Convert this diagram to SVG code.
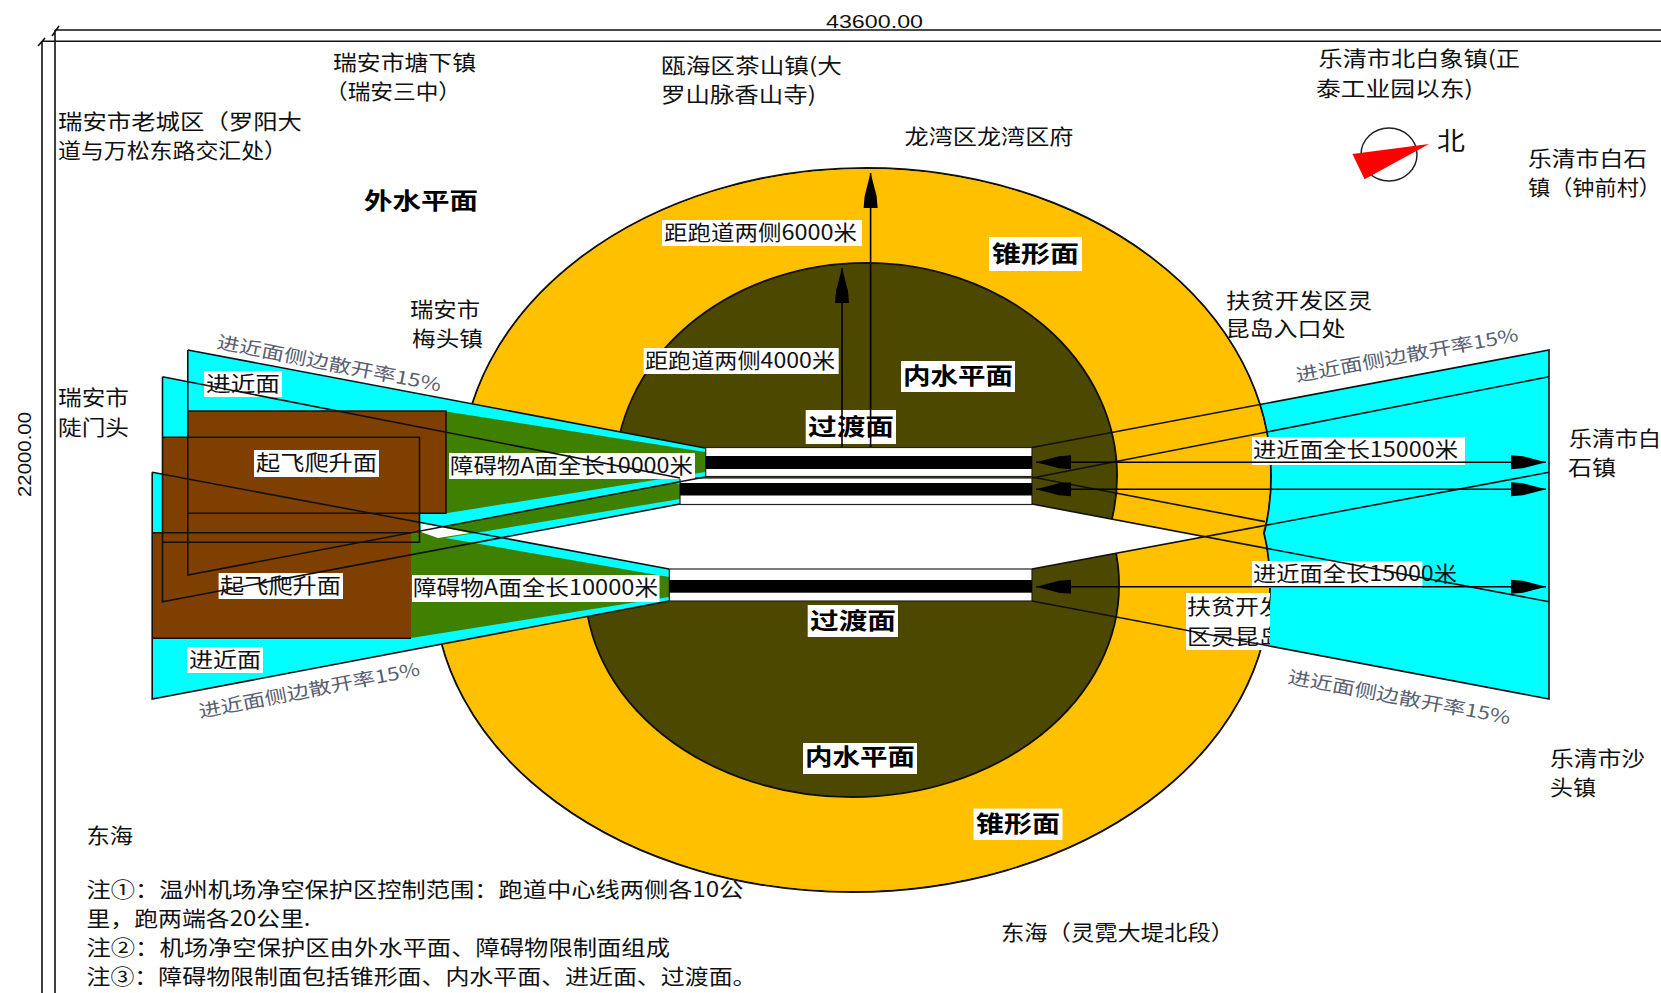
<svg xmlns="http://www.w3.org/2000/svg" width="1661" height="993" viewBox="0 0 1661 993">
<style>
text{font-family:"Noto Sans CJK SC","Noto Sans",sans-serif;font-size:21px;fill:#111}
.b{font-weight:700;font-size:23px;fill:#000}
.r{font-size:18px;fill:#5a6070}
.d{font-family:"Liberation Sans","Noto Sans CJK SC",sans-serif;font-size:19px}
.o{fill:none;stroke:#111;stroke-width:1.6}
.w{fill:#fff}
.ys{fill:#ffc000;stroke:#111;stroke-width:2}
.y{fill:#ffc000}
.ks{fill:#4d4800;stroke:#111;stroke-width:2}
.k{fill:#4d4800}
.c{fill:#00ffff}
.g{fill:#408000}
.br{fill:#7f3f00}
.a{fill:none;stroke:#000;stroke-width:1.6}
</style>
<defs>
<marker id="ah" markerUnits="userSpaceOnUse" markerWidth="38" markerHeight="16" refX="35" refY="8" orient="auto-start-reverse"><path d="M0 1L12 2L35 8L12 14L0 15Z" fill="#000"/></marker>
<clipPath id="clipL"><rect x="1186" y="593" width="84" height="57"/></clipPath>
</defs>
<rect width="1661" height="993" fill="#fff"/>
<g id="frame">
<path class="o" d="M55 30H1661M42 41.3H1661M42 41.3V993M55 30V993M52 36L59 26M38 46L45 38"/>
<text class="d" x="826" y="28" textLength="97" lengthAdjust="spacingAndGlyphs">43600.00</text>
<text class="d" transform="translate(31 497) rotate(-90)" x="0" y="0" textLength="85" lengthAdjust="spacingAndGlyphs">22000.00</text>
</g>
<g id="right-approach"><path class="c" d="M1032 447.5L1549 350V699L1032 601Z"/></g>
<g id="conical-surface">
<ellipse class="ys" cx="866" cy="476" rx="405" ry="308"/>
<ellipse class="ys" cx="852" cy="585" rx="418" ry="307"/>
<ellipse class="y" cx="866" cy="476" rx="404" ry="307"/>
<ellipse class="y" cx="852" cy="585" rx="417" ry="306"/>
</g>
<g id="inner-horizontal-surface">
<ellipse class="ks" cx="866" cy="476" rx="251" ry="213"/>
<ellipse class="ks" cx="852" cy="585" rx="267" ry="212"/>
<ellipse class="k" cx="866" cy="476" rx="250" ry="212"/>
<ellipse class="k" cx="852" cy="585" rx="266" ry="211"/>
</g>
<g id="centre-gap"><path class="w" d="M1032 504L1204 536.5L1032 569H669L500 538L680 504Z"/></g>
<g id="left-surfaces">
<path class="c" d="M152.2 472.3L669 569V601L152.2 699Z"/>
<path class="c" d="M162.5 376.7L680 478V504L162.5 601.7Z"/>
<path class="g" d="M419.5 437L680 484V499L419.5 542.3Z"/>
<path class="c" d="M187.8 350L705 448V477L187.8 575Z"/>
<path class="g" d="M446 411.5L705 452V472L446 513.3Z"/>
<rect class="br" x="162.5" y="437.3" width="257" height="105"/>
<rect class="br" x="187.8" y="411" width="258.2" height="102.3"/>
<path class="g" d="M411 532L669 577V597L411 638Z"/>
<rect class="br" x="152.2" y="532.7" width="258.8" height="105.6"/>
<path class="w" d="M421 523L470 533L438 538L421 532Z"/>
</g>
<g id="runways">
<rect class="w" x="705.7" y="447.5" width="326.3" height="29" stroke="#222" stroke-width="1.2"/>
<rect x="705.7" y="456" width="326.3" height="13" fill="#000"/>
<rect class="w" x="680" y="478" width="352" height="26.5" stroke="#222" stroke-width="1.2"/>
<rect x="680" y="483" width="352" height="12.5" fill="#000"/>
<rect class="w" x="669.3" y="569" width="362.7" height="32" stroke="#222" stroke-width="1.2"/>
<rect x="669.3" y="580" width="362.7" height="12.7" fill="#000"/>
</g>
<g id="label-boxes">
<rect class="w" x="662" y="220" width="200" height="26"/>
<rect class="w" x="643.7" y="348" width="195" height="26"/>
<rect class="w" x="989" y="237" width="93" height="34"/>
<rect class="w" x="901" y="361" width="114" height="31"/>
<rect class="w" x="805.7" y="410" width="90.3" height="34"/>
<rect class="w" x="807.7" y="605" width="90.3" height="32"/>
<rect class="w" x="803" y="743" width="114" height="31"/>
<rect class="w" x="973.5" y="808.6" width="89" height="31.4"/>
<rect class="w" x="204" y="371" width="78" height="26"/>
<rect class="w" x="187" y="647" width="76" height="26"/>
<rect class="w" x="254" y="450" width="125" height="27"/>
<rect class="w" x="218.6" y="573" width="124.4" height="26"/>
<rect class="w" x="449" y="453" width="246" height="26"/>
<rect class="w" x="412" y="575" width="247.5" height="27"/>
<rect class="w" x="1252" y="437" width="213" height="28"/>
<rect class="w" x="1252" y="561" width="170.4" height="27"/>
<rect class="w" x="1186" y="593" width="84" height="57"/>
</g>
<g id="connectors">
<path class="o" d="M187.8 350L705 448M705 477L187.8 575V350M162.5 376.7L680 478M680 504L162.5 601.7V376.7M152.2 472.3L669 569M669 601L152.2 699V472.3"/>
<path class="o" d="M187.8 411H446V513.3H187.8M162.5 437.3H419.5V542.3H162.5M152.2 532.7H411M152.2 638.3H411"/>
<path class="o" d="M1032 447.5L1549 350V699L1032 601M1032 478L1549 376.7M1032 477L1265 521.6M1032 504L1549 601.7M1032 569L1549 472.3"/>
<path class="a" d="M870.6 447V173" marker-end="url(#ah)"/>
<path class="a" d="M842 447V268" marker-end="url(#ah)"/>
<path class="a" d="M1036 462.3H1546" marker-start="url(#ah)" marker-end="url(#ah)"/>
<path class="a" d="M1036 489.3H1546" marker-start="url(#ah)" marker-end="url(#ah)"/>
<path class="a" d="M1036 586.7H1546" marker-start="url(#ah)" marker-end="url(#ah)"/>
</g>
<g id="compass">
<ellipse cx="1389" cy="154.5" rx="28" ry="26.5" fill="none" stroke="#222" stroke-width="1.5"/>
<path fill="#f00" d="M1429 144L1352.4 154L1364.6 179.3Z"/>
<text x="1437" y="150" textLength="28" lengthAdjust="spacingAndGlyphs" style="font-size:25px">北</text>
</g>
<g id="place-names">
<text x="333" y="70" textLength="143" lengthAdjust="spacingAndGlyphs">瑞安市塘下镇</text>
<text x="325" y="99" textLength="136" lengthAdjust="spacingAndGlyphs">（瑞安三中）</text>
<text x="58" y="129" textLength="244" lengthAdjust="spacingAndGlyphs">瑞安市老城区（罗阳大</text>
<text x="58" y="158" textLength="229" lengthAdjust="spacingAndGlyphs">道与万松东路交汇处）</text>
<text x="661" y="73" textLength="181" lengthAdjust="spacingAndGlyphs">瓯海区茶山镇(大</text>
<text x="661" y="102" textLength="155" lengthAdjust="spacingAndGlyphs">罗山脉香山寺)</text>
<text x="1318.5" y="66" textLength="201.5" lengthAdjust="spacingAndGlyphs">乐清市北白象镇(正</text>
<text x="1316" y="96" textLength="157" lengthAdjust="spacingAndGlyphs">泰工业园以东)</text>
<text x="904.5" y="144" textLength="169" lengthAdjust="spacingAndGlyphs">龙湾区龙湾区府</text>
<text x="1528" y="166" textLength="119" lengthAdjust="spacingAndGlyphs">乐清市白石</text>
<text x="1528" y="195" textLength="133" lengthAdjust="spacingAndGlyphs">镇（钟前村）</text>
<text x="410" y="317" textLength="70" lengthAdjust="spacingAndGlyphs">瑞安市</text>
<text x="412" y="346" textLength="71" lengthAdjust="spacingAndGlyphs">梅头镇</text>
<text x="58" y="405" textLength="71" lengthAdjust="spacingAndGlyphs">瑞安市</text>
<text x="58" y="435" textLength="71" lengthAdjust="spacingAndGlyphs">陡门头</text>
<text x="1226" y="308" textLength="146" lengthAdjust="spacingAndGlyphs">扶贫开发区灵</text>
<text x="1225.5" y="336" textLength="120" lengthAdjust="spacingAndGlyphs">昆岛入口处</text>
<text x="1569" y="446" textLength="92" lengthAdjust="spacingAndGlyphs">乐清市白</text>
<text x="1568" y="475" textLength="48" lengthAdjust="spacingAndGlyphs">石镇</text>
<text x="1550" y="766" textLength="95" lengthAdjust="spacingAndGlyphs">乐清市沙</text>
<text x="1550" y="795" textLength="46" lengthAdjust="spacingAndGlyphs">头镇</text>
<text x="86.5" y="843" textLength="46.5" lengthAdjust="spacingAndGlyphs">东海</text>
<text x="1001" y="940" textLength="233" lengthAdjust="spacingAndGlyphs">东海（灵霓大堤北段）</text>
<text class="b" x="364" y="209" textLength="114" lengthAdjust="spacingAndGlyphs">外水平面</text>
</g>
<g id="notes">
<text x="86.5" y="897" textLength="657" lengthAdjust="spacingAndGlyphs">注①：温州机场净空保护区控制范围：跑道中心线两侧各10公</text>
<text x="86.5" y="926" textLength="224" lengthAdjust="spacingAndGlyphs">里，跑两端各20公里.</text>
<text x="86.5" y="955" textLength="583.5" lengthAdjust="spacingAndGlyphs">注②：机场净空保护区由外水平面、障碍物限制面组成</text>
<text x="86.5" y="984" textLength="670" lengthAdjust="spacingAndGlyphs">注③：障碍物限制面包括锥形面、内水平面、进近面、过渡面。</text>
</g>
<g id="slope-labels">
<text class="r" transform="translate(216 348) rotate(11)" textLength="228" lengthAdjust="spacingAndGlyphs">进近面侧边散开率15%</text>
<text class="r" transform="translate(1297 382) rotate(-10.5)" textLength="226" lengthAdjust="spacingAndGlyphs">进近面侧边散开率15%</text>
<text class="r" transform="translate(200 718) rotate(-11)" textLength="225" lengthAdjust="spacingAndGlyphs">进近面侧边散开率15%</text>
<text class="r" transform="translate(1287 683) rotate(10.5)" textLength="226" lengthAdjust="spacingAndGlyphs">进近面侧边散开率15%</text>
</g>
<g id="boxed-labels">
<text x="664" y="240" textLength="193" lengthAdjust="spacingAndGlyphs">距跑道两侧6000米</text>
<text x="645" y="368" textLength="190" lengthAdjust="spacingAndGlyphs">距跑道两侧4000米</text>
<text class="b" x="992" y="262" textLength="87" lengthAdjust="spacingAndGlyphs">锥形面</text>
<text class="b" x="903" y="384" textLength="110" lengthAdjust="spacingAndGlyphs">内水平面</text>
<text class="b" x="808" y="435" textLength="86" lengthAdjust="spacingAndGlyphs">过渡面</text>
<text class="b" x="810" y="629" textLength="86" lengthAdjust="spacingAndGlyphs">过渡面</text>
<text class="b" x="805" y="765" textLength="110" lengthAdjust="spacingAndGlyphs">内水平面</text>
<text class="b" x="976" y="832" textLength="84" lengthAdjust="spacingAndGlyphs">锥形面</text>
<text x="206" y="391" textLength="74" lengthAdjust="spacingAndGlyphs">进近面</text>
<text x="189" y="667" textLength="72" lengthAdjust="spacingAndGlyphs">进近面</text>
<text x="256" y="470" textLength="121" lengthAdjust="spacingAndGlyphs">起飞爬升面</text>
<text x="220" y="593" textLength="121" lengthAdjust="spacingAndGlyphs">起飞爬升面</text>
<text x="450" y="473" textLength="243" lengthAdjust="spacingAndGlyphs">障碍物A面全长10000米</text>
<text x="413" y="595" textLength="245" lengthAdjust="spacingAndGlyphs">障碍物A面全长10000米</text>
<text x="1253" y="457" textLength="205" lengthAdjust="spacingAndGlyphs">进近面全长15000米</text>
<text x="1253" y="581" textLength="204" lengthAdjust="spacingAndGlyphs">进近面全长15000米</text>
<g clip-path="url(#clipL)">
<text x="1187" y="614" textLength="96" lengthAdjust="spacingAndGlyphs">扶贫开发</text>
<text x="1187" y="644" textLength="96" lengthAdjust="spacingAndGlyphs">区灵昆岛</text></g>
</g>
</svg>
